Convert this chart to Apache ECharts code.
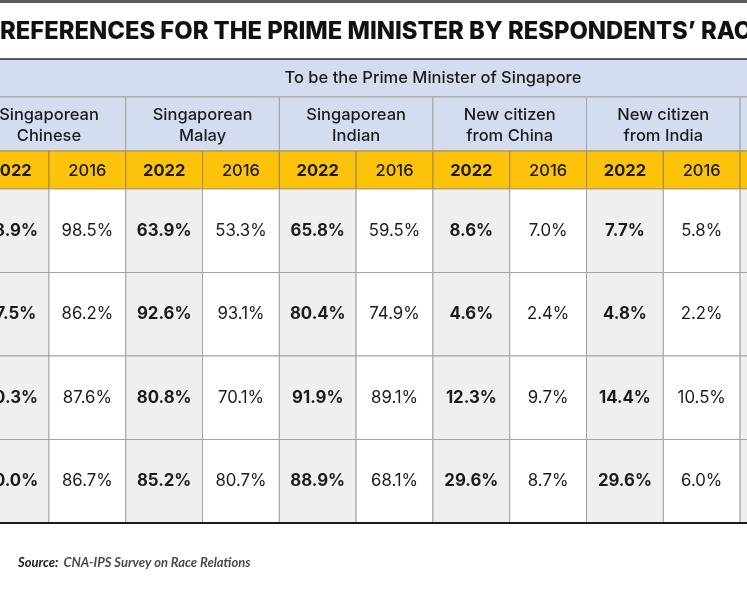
<!DOCTYPE html>
<html>
<head>
<meta charset="utf-8">
<style>
  html, body { margin: 0; padding: 0; background: #fff; }
  #chart { width: 747px; height: 598px; }
</style>
<script src="https://cdn.jsdelivr.net/npm/echarts@6/dist/echarts.min.js"></script>
</head>
<body>
<div id="chart"></div>
<script>
// candidate groups (columns), two survey years each
const groups = ['Singaporean\nChinese', 'Singaporean\nMalay', 'Singaporean\nIndian', 'New citizen\nfrom China', 'New citizen\nfrom India', ''];
const years = ['2022', '2016'];
const topHeader = 'To be the Prime Minister of Singapore';

// one value per respondents' race row
const chinese2022 = ['98.9%', '97.5%', '90.3%', '90.0%'];
const chinese2016 = ['98.5%', '86.2%', '87.6%', '86.7%'];
const malay2022 = ['63.9%', '92.6%', '80.8%', '85.2%'];
const malay2016 = ['53.3%', '93.1%', '70.1%', '80.7%'];
const indian2022 = ['65.8%', '80.4%', '91.9%', '88.9%'];
const indian2016 = ['59.5%', '74.9%', '89.1%', '68.1%'];
const china2022 = ['8.6%', '4.6%', '12.3%', '29.6%'];
const china2016 = ['7.0%', '2.4%', '9.7%', '8.7%'];
const india2022 = ['7.7%', '4.8%', '14.4%', '29.6%'];
const india2016 = ['5.8%', '2.2%', '10.5%', '6.0%'];
const columns = [chinese2022, chinese2016, malay2022, malay2016, indian2022, indian2016,
  china2022, china2016, india2022, india2016, ['', '', '', ''], ['', '', '', '']];

const titleText = 'REFERENCES FOR THE PRIME MINISTER BY RESPONDENTS\u2019 RACE';
const sourceText = 'CNA-IPS Survey on Race Relations';

// row heights in table units (data row = 1)
const rowHeights = [0.455, 0.647, 0.455, 1, 1, 1, 1];
const rowTop = [0];
rowHeights.forEach((h, i) => rowTop.push(rowTop[i] + h));
const tableBottom = rowTop[rowTop.length - 1];

const BLUE = '#d3ddef';
const YELLOW = '#fcc30a';
const GREY = '#efefef';
const FONT = 'Inter, "Noto Sans", sans-serif';

// build the cells
const cells = [];
cells.push({ x0: 0, x1: 12, r: 0, text: topHeader, kind: 'top' });
groups.forEach((g, gi) => {
  cells.push({ x0: gi * 2, x1: gi * 2 + 2, r: 1, text: g, kind: 'group' });
  years.forEach((y, yi) => {
    cells.push({ x0: gi * 2 + yi, x1: gi * 2 + yi + 1, r: 2, text: y, kind: 'year', bold: yi === 0 });
  });
});
columns.forEach((col, ci) => {
  col.forEach((v, ri) => {
    cells.push({ x0: ci, x1: ci + 1, r: 3 + ri, text: v, kind: 'value', bold: ci % 2 === 0 });
  });
});

const chart = echarts.init(document.getElementById('chart'));

const option = {
  animation: false,
  title: [{
    text: titleText,
    left: 0,
    top: 20,
    padding: 0,
    textStyle: { fontFamily: FONT, fontWeight: 800, fontSize: 23.8, color: '#111' }
  }, {
    text: '{b|Source:} {i|' + sourceText + '}',
    left: 18,
    top: 554,
    padding: 0,
    textStyle: {
      rich: {
        b: { fontFamily: 'Lato, sans-serif', fontStyle: 'italic', fontWeight: 'bold', fontSize: 13, color: '#1a1a1a' },
        i: { fontFamily: 'Lato, sans-serif', fontStyle: 'italic', fontSize: 13, color: '#4a4a4a' }
      }
    }
  }],
  graphic: [{
    type: 'rect',
    shape: { x: 0, y: 0, width: 747, height: 3 },
    style: { fill: '#5b5b5b' }
  }],
  grid: { left: 0, right: 0, top: 59, height: 464 },
  xAxis: [{
    type: 'value', min: 0.362, max: 10.09, position: 'top', z: 10,
    axisLine: { show: true, lineStyle: { color: '#2a2a2a', width: 1.5 } },
    axisTick: { show: false }, axisLabel: { show: false }, splitLine: { show: false }
  }, {
    type: 'value', min: 0.362, max: 10.09, position: 'bottom', z: 10,
    axisLine: { show: true, lineStyle: { color: '#1a1a1a', width: 2 } },
    axisTick: { show: false }, axisLabel: { show: false }, splitLine: { show: false }
  }],
  yAxis: {
    type: 'value', min: 0, max: tableBottom, inverse: true, show: false
  },
  series: [{
    type: 'custom',
    xAxisIndex: 0,
    clip: true,
    encode: { x: [0, 1], y: [2, 3] },
    data: cells.map(c => [c.x0, c.x1, rowTop[c.r], rowTop[c.r + 1]]),
    renderItem: function (params, api) {
      const c = cells[params.dataIndex];
      const p0 = api.coord([api.value(0), api.value(2)]);
      const p1 = api.coord([api.value(1), api.value(3)]);
      let fill = '#fff';
      let stroke = '#a3a3a3';
      if (c.kind === 'top' || c.kind === 'group') fill = BLUE;
      if (c.kind === 'year') { fill = YELLOW; stroke = '#a08a4a'; }
      if (c.kind === 'value' && c.bold) fill = GREY;
      return {
        type: 'group',
        children: [{
          type: 'rect',
          shape: { x: p0[0], y: p0[1], width: p1[0] - p0[0], height: p1[1] - p0[1] },
          style: { fill: fill, stroke: stroke, lineWidth: 1 }
        }, {
          type: 'text',
          style: {
            text: c.text,
            x: (p0[0] + p1[0]) / 2,
            y: (p0[1] + p1[1]) / 2 + (c.kind === 'group' || c.kind === 'year' ? 1.5 : 0),
            align: 'center',
            verticalAlign: 'middle',
            fontFamily: FONT,
            fontSize: c.kind === 'value' ? 16.8 : 16.5,
            lineHeight: 21,
            fontWeight: c.bold ? 700 : (c.kind === 'value' ? 400 : 500),
            fill: '#1b1b1b'
          }
        }]
      };
    }
  }]
};

chart.setOption(option);
</script>
</body>
</html>
